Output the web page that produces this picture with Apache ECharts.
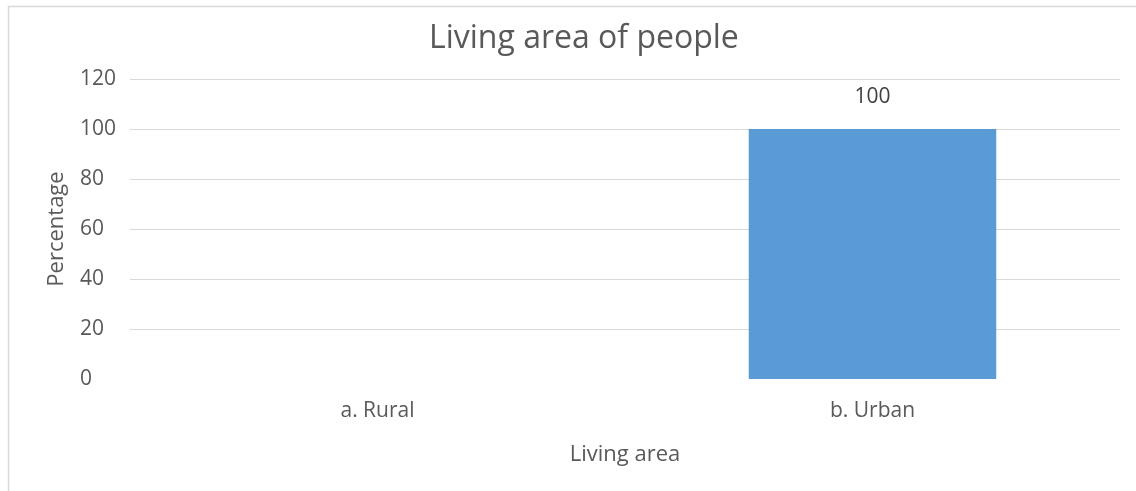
<!DOCTYPE html>
<html>
<head>
<meta charset="utf-8">
<title>Living area of people</title>
<script src="https://cdn.jsdelivr.net/npm/echarts@6/dist/echarts.min.js"></script>
<style>
  html, body { margin: 0; padding: 0; background: #fff; }
  #chart { width: 1136px; height: 491px; }
</style>
</head>
<body>
<div id="chart"></div>
<script>
// chart data
var categories = ['a. Rural', 'b. Urban'];
var percentages = [0, 100];
var yTicks = [0, 20, 40, 60, 80, 100, 120];

var font = 'Open Sans';
var gridColors = yTicks.map(function (t, i) {
    return i === 0 ? 'rgba(0,0,0,0)' : '#d9d9d9';
});

var myChart = echarts.init(document.getElementById('chart'));

var option = {
    animation: false,
    backgroundColor: '#fff',
    textStyle: { fontFamily: font },
    title: {
        text: 'Living area of people',
        left: 424,
        top: 18,
        textStyle: {
            fontFamily: font,
            fontSize: 32,
            fontWeight: 'normal',
            color: '#595959'
        }
    },
    graphic: [{
        type: 'rect',
        shape: { x: 8.5, y: 6.5, width: 1200, height: 600 },
        style: { fill: 'none', stroke: '#d9d9d9', lineWidth: 1.5 },
        silent: true
    }],
    grid: {
        left: 130,
        right: 16,
        top: 79,
        bottom: 112
    },
    xAxis: {
        type: 'category',
        data: categories,
        name: 'Living area',
        nameLocation: 'middle',
        nameGap: 65,
        nameTextStyle: { fontFamily: font, fontSize: 22, color: '#595959' },
        axisLine: { show: false },
        axisTick: { show: false },
        axisLabel: {
            margin: 22,
            fontFamily: font,
            fontSize: 21,
            color: '#595959'
        }
    },
    yAxis: {
        type: 'value',
        min: 0,
        max: 120,
        interval: 20,
        name: 'Percentage',
        nameLocation: 'middle',
        nameGap: 62,
        nameTextStyle: { fontFamily: font, fontSize: 22, color: '#595959' },
        axisLine: { show: false },
        axisTick: { show: false },
        axisLabel: {
            align: 'left',
            margin: 50,
            fontFamily: font,
            fontSize: 21,
            color: '#595959'
        },
        splitLine: {
            show: true,
            lineStyle: { color: gridColors, width: 1 }
        }
    },
    series: [{
        type: 'bar',
        data: percentages,
        barWidth: '50%',
        itemStyle: { color: '#5b9bd5' },
        label: {
            show: true,
            position: 'top',
            distance: 21,
            fontFamily: font,
            fontSize: 21,
            color: '#404040',
            formatter: function (p) {
                return p.value ? p.value : '';
            }
        }
    }]
};

myChart.setOption(option);
</script>
</body>
</html>
